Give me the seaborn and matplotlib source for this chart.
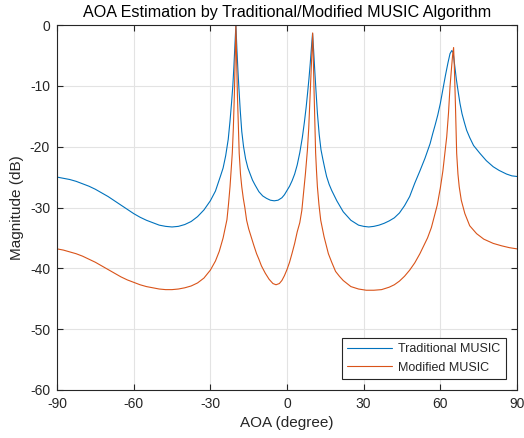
import numpy as np
import pandas as pd
import matplotlib
matplotlib.use("Agg")
import matplotlib.pyplot as plt
import seaborn as sns

# spectrum (angle in degree, magnitude in dB)
ang_trad = [-90, -87.5, -85, -82.5, -80, -77.5, -75, -72.5, -70, -67.5, -65, -62.5, -60,
            -57.5, -55, -52.5, -50, -47.5, -45, -42.5, -40, -37.5, -35, -32.5, -30, -28,
            -26, -25, -24, -23, -22.3, -21.7, -21.2, -20.8, -20.4, -20, -19.6, -19.2,
            -18.8, -18.3, -17.7, -17, -16.2, -15.3, -14.5, -13.5, -12.5, -11, -9.5, -8,
            -6.5, -5, -3.5, -2, -1, 0, 1, 2, 3, 4, 5, 6, 6.8, 7.5, 8.1, 8.6, 9.1, 9.6, 10,
            10.4, 10.8, 11.3, 11.9, 12.6, 13.3, 14, 14.8, 15.5, 16.5, 17.5, 19.5, 22, 25,
            28, 30, 32, 34, 36, 38, 40, 42, 44, 46, 48, 50, 52, 54, 56, 57, 58, 59, 60, 61,
            62, 63, 63.8, 64.5, 65, 65.7, 66.3, 67, 67.7, 68.5, 69.4, 70.3, 71.5, 73, 75.5,
            78, 80.7, 83, 85.9, 88, 90]
mag_trad = [-25.0, -25.2, -25.4, -25.7, -26.1, -26.5, -27.0, -27.6, -28.2, -28.9, -29.6,
            -30.3, -31.0, -31.6, -32.1, -32.5, -32.9, -33.1, -33.2, -33.1, -32.8, -32.3,
            -31.5, -30.4, -28.9, -27.3, -24.8, -23.5, -21.5, -18.8, -15.8, -12.8, -10.0,
            -7.0, -3.5, 0.0, -4.0, -7.5, -10.5, -14.0, -17.5, -20.0, -22.0, -23.5, -24.4,
            -25.5, -26.3, -27.4, -28.1, -28.5, -28.8, -28.9, -28.8, -28.4, -27.9, -27.2,
            -26.5, -25.6, -24.5, -23.0, -21.0, -18.5, -16.0, -13.5, -11.0, -8.8, -6.3,
            -3.5, -1.4, -4.0, -7.0, -10.5, -14.5, -18.0, -20.5, -22.0, -23.6, -24.9,
            -26.2, -27.2, -28.9, -30.7, -32.1, -32.9, -33.1, -33.2, -33.1, -32.9, -32.6,
            -32.2, -31.7, -30.9, -29.7, -28.2, -26.0, -24.0, -21.9, -19.5, -17.9, -16.4,
            -14.8, -12.9, -10.6, -8.3, -6.2, -4.7, -4.2, -4.5, -6.9, -9.0, -11.0, -12.9,
            -14.6, -16.0, -17.3, -18.5, -19.8, -21.1, -22.3, -23.3, -23.9, -24.5, -24.8,
            -24.9]

ang_mod = [-90, -87.5, -85, -82.5, -80, -77.5, -75, -72.5, -70, -67.5, -65, -62.5, -60,
           -57.5, -55, -52.5, -50, -47.5, -45, -42.5, -40, -37.5, -35, -32.5, -30, -28,
           -26.5, -25, -23.5, -22.9, -22.3, -21.8, -21.4, -21.0, -20.6, -20.3, -20, -19.7,
           -19.4, -19.0, -18.7, -18.2, -17.7, -17.1, -16.5, -15.8, -15, -13, -11.9, -11,
           -10, -8.5, -7, -5.5, -4.3, -3, -2, -1, 0, 1, 2, 3, 4, 5, 5.8, 6.5, 7.2, 8, 8.5,
           9, 9.4, 9.7, 10.05, 10.3, 10.6, 10.9, 11.2, 11.55, 11.9, 12.5, 13.2, 14.5, 16.2,
           17.5, 19, 20.5, 22, 25, 28, 31, 34, 37, 40, 42, 44, 46, 48, 50, 52, 55, 56.5,
           57.5, 58.8, 60, 61, 61.8, 62.5, 63.2, 63.8, 64.3, 64.8, 65.2, 65.5, 65.9, 66.4,
           66.9, 67.4, 68.2, 69.6, 71.5, 74.2, 77, 80.7, 84, 87, 90]
mag_mod = [-36.8, -37.0, -37.3, -37.6, -38.0, -38.5, -39.0, -39.6, -40.2, -40.8, -41.4,
           -41.9, -42.3, -42.7, -43.0, -43.2, -43.4, -43.5, -43.5, -43.4, -43.2, -42.9,
           -42.4, -41.6, -40.3, -38.8, -37.2, -35.0, -32.0, -29.5, -26.6, -23.5, -21.0,
           -17.0, -11.5, -6.0, 0.0, -6.0, -11.5, -17.0, -21.1, -24.5, -26.6, -28.5, -30.0,
           -32.1, -33.5, -36.2, -37.6, -38.5, -39.6, -40.8, -41.8, -42.5, -42.7, -42.5,
           -42.0, -41.2, -40.2, -39.0, -37.5, -35.9, -34.0, -32.5, -30.5, -27.5, -24.5,
           -20.5, -17.0, -12.0, -8.0, -5.0, -1.3, -5.5, -11.0, -16.0, -21.0, -24.0, -26.6,
           -29.5, -32.1, -34.8, -37.6, -39.0, -40.5, -41.3, -42.0, -43.0, -43.4, -43.6,
           -43.6, -43.5, -43.1, -42.7, -42.1, -41.3, -40.3, -39.1, -37.6, -35.0, -33.3,
           -31.7, -29.6, -26.8, -24.0, -21.0, -18.4, -14.5, -10.1, -7.5, -5.0, -3.7, -7.0,
           -12.9, -21.1, -24.5, -26.6, -28.8, -31.0, -33.0, -34.3, -35.2, -35.9, -36.3,
           -36.6, -36.8]

labels = ["Traditional MUSIC", "Modified MUSIC"]
colors = ["#0072BD", "#D95319"]
xticks = [-90, -60, -30, 0, 30, 60, 90]
yticks = [-60, -50, -40, -30, -20, -10, 0]

df = pd.concat([
    pd.DataFrame({"AOA": ang_trad, "dB": mag_trad, "method": labels[0]}),
    pd.DataFrame({"AOA": ang_mod, "dB": mag_mod, "method": labels[1]}),
])

sns.set_style("ticks")
plt.rcParams["font.family"] = ["Liberation Sans", "DejaVu Sans"]
plt.rcParams["axes.unicode_minus"] = False

fig = plt.figure(figsize=(5.24, 4.38), dpi=100)
ax = fig.add_axes([0.1088, 0.1096, 0.8778, 0.8333])

sns.lineplot(data=df, x="AOA", y="dB", hue="method", palette=colors,
             estimator=None, sort=False, linewidth=0.8, ax=ax)

ax.set_xlim(-90, 90)
ax.set_ylim(-60, 0)
ax.set_xticks(xticks)
ax.set_yticks(yticks)
ax.grid(True, color="#e3e3e3", linewidth=0.8)
ax.set_axisbelow(True)
for s in ax.spines.values():
    s.set_visible(True)
    s.set_color("#262626")
    s.set_linewidth(0.8)
ax.tick_params(direction="in", length=4, width=0.8, top=True, right=True,
               labelsize=10, colors="#262626", labelcolor="#262626", pad=5)

ax.set_title("AOA Estimation by Traditional/Modified MUSIC Algorithm",
             fontsize=11.6, color="#000000", pad=6)
ax.set_xlabel("AOA (degree)", fontsize=11, color="#262626")
ax.set_ylabel("Magnitude (dB)", fontsize=11, color="#262626")

handles, _ = ax.get_legend_handles_labels()
leg = ax.legend(handles[:2], labels, loc="lower right", fontsize=9,
                frameon=True, fancybox=False, edgecolor="#262626",
                handlelength=3.6, borderpad=0.45, borderaxespad=0.85,
                handletextpad=0.5, framealpha=1)
leg.get_frame().set_linewidth(0.8)

fig.savefig("out.png", dpi=100)
